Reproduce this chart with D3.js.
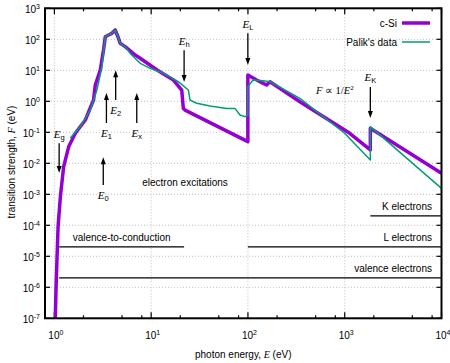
<!DOCTYPE html>
<meta charset="utf-8">
<head>
<script src="https://cdnjs.cloudflare.com/ajax/libs/d3/7.8.5/d3.min.js"></script>
<style>
body { margin: 0; background: #fff; }
svg { font-family: "Liberation Sans", Arial, sans-serif; font-size: 10px; }
.grid line { stroke: #b0b0b0; stroke-width: 0.8; stroke-dasharray: 1,2; }
.frame { fill: none; stroke: #000; stroke-width: 2; }
.tick { stroke: #000; stroke-width: 1.2; }
.serif { font-family: "Liberation Serif", "Times New Roman", serif; }
</style>
</head>
<body>
<script>

// c-Si model curve (photon energy in eV, transition strength in eV)
var siE = [1.02, 1.041, 1.066, 1.092, 1.153, 1.247, 1.404, 1.646, 2.087, 2.54, 2.647, 2.98, 3.22, 3.36, 3.63, 3.93, 4.25, 4.54, 4.79, 5.39, 6.84, 7.7, 11.5, 17, 20.7, 21.5, 22.4, 99.8, 99.8, 123, 144, 156, 169, 344, 1127, 1839, 1839, 10000];
var siF = [8e-8, 1.05e-6, 9.8e-6, 9e-5, 8.3e-4, 7.8e-3, 0.034, 0.093, 0.25, 1.1, 3.36, 10.2, 45, 121, 138, 156, 200, 121, 74, 58, 31, 24.4, 10.2, 4.86, 2.3, 0.59, 0.52, 0.05, 7.05, 4.86, 3.8, 3.36, 4.29, 0.97, 0.093, 0.027, 0.135, 0.0048];

// Palik's data
var palikE = [1.46, 1.85, 2.35, 2.75, 3.1, 3.36, 3.63, 3.93, 4.25, 4.54, 4.79, 5.39, 6.08, 7.7, 9.77, 13.4, 19.1, 24.2, 25.2, 29.6, 40.6, 60.3, 73.5, 82.8, 93.1, 99.8, 99.8, 113, 144, 169, 344, 998, 1839, 1839, 10000];
var palikF = [0.065, 0.152, 0.52, 2.3, 13, 121, 138, 156, 200, 121, 74, 58, 34.8, 16.8, 11.6, 8.0, 4.29, 2.32, 1.1, 0.86, 0.70, 0.59, 0.59, 0.36, 0.32, 0.36, 2.98, 4.86, 4.62, 4.29, 1.25, 0.093, 0.0128, 0.152, 0.00156];

// tick values
var xMajor = [1, 10, 100, 1000, 10000];
var xMinor = [2, 5, 8, 20, 50, 80, 200, 500, 800, 2000, 5000, 8000];
var yMajor = [1e-7, 1e-6, 1e-5, 1e-4, 1e-3, 1e-2, 1e-1, 1, 10, 100, 1000];

// arrows: subscript, energy, tail F, head F
var arrowSub = ["g", "0", "1", "2", "x", "h", "L", "K"];
var arrowE = [1.12, 3.2, 3.45, 4.3, 7.1, 21.9, 99.8, 1839];
var arrowFrom = [0.0447, 0.002, 0.2, 1.1, 0.2, 44.7, 158, 2.9];
var arrowTo = [0.0049, 0.0158, 1.86, 10, 1.86, 4.2, 14.8, 0.29];

// electron groups: label, level, from, to
var bandName = ["valence-to-conduction", "valence electrons", "L electrons", "K electrons"];
var bandF = [2e-5, 2e-6, 2e-5, 2e-4];
var bandFrom = [1.12, 1.12, 99.8, 1839];
var bandTo = [21.9, 10000, 10000, 10000];

var legendNames = ["c-Si", "Palik's data"];
var colors = ["#9400d3", "#009e73"];

var W = 450, H = 363;
var pL = 45, pR = 441.5, pT = 8.3, pB = 318.3;

var x = d3.scaleLog().domain([0.8, 10000]).range([pL, pR]);
var y = d3.scaleLog().domain([1e-7, 1000]).range([pB, pT]);

var svg = d3.select("body").append("svg")
    .attr("width", W)
    .attr("height", H);

svg.append("clipPath").attr("id", "clip")
  .append("rect")
    .attr("x", pL).attr("y", pT)
    .attr("width", pR - pL).attr("height", pB - pT);

// grid
var grid = svg.append("g").attr("class", "grid");
grid.selectAll(".gx").data(xMajor.slice(0, 4)).enter().append("line")
    .attr("x1", d => x(d)).attr("x2", d => x(d))
    .attr("y1", pT).attr("y2", pB);
grid.selectAll(".gy").data(yMajor.slice(1, 10)).enter().append("line")
    .attr("x1", pL).attr("x2", pR)
    .attr("y1", d => y(d)).attr("y2", d => y(d));

// ticks (inward, on all four sides)
var ticks = svg.append("g");
xMajor.forEach(function(d) {
  ticks.append("line").attr("class", "tick").attr("x1", x(d)).attr("x2", x(d)).attr("y1", pB).attr("y2", pB - 6);
  ticks.append("line").attr("class", "tick").attr("x1", x(d)).attr("x2", x(d)).attr("y1", pT).attr("y2", pT + 6);
});
xMinor.forEach(function(d) {
  ticks.append("line").attr("class", "tick").attr("x1", x(d)).attr("x2", x(d)).attr("y1", pB).attr("y2", pB - 3);
  ticks.append("line").attr("class", "tick").attr("x1", x(d)).attr("x2", x(d)).attr("y1", pT).attr("y2", pT + 3);
});
yMajor.forEach(function(d) {
  ticks.append("line").attr("class", "tick").attr("x1", pL).attr("x2", pL + 5).attr("y1", y(d)).attr("y2", y(d));
  ticks.append("line").attr("class", "tick").attr("x1", pR).attr("x2", pR - 5).attr("y1", y(d)).attr("y2", y(d));
});

// tick labels
function powLabel(sel, d) {
  sel.append("tspan").text("10");
  sel.append("tspan").attr("dy", -4).style("font-size", "7px").text(Math.round(Math.log10(d)));
}
svg.selectAll(".xl").data(xMajor).enter().append("text")
    .attr("x", d => x(d) + 1.5).attr("y", 339)
    .attr("text-anchor", "middle")
    .each(function(d) { powLabel(d3.select(this), d); });
svg.selectAll(".yl").data(yMajor).enter().append("text")
    .attr("x", 40).attr("y", d => y(d) + 4.5)
    .attr("text-anchor", "end")
    .each(function(d) { powLabel(d3.select(this), d); });

// axis titles
var xt = svg.append("text").attr("x", (pL + pR) / 2).attr("y", 358).attr("text-anchor", "middle");
xt.append("tspan").text("photon energy, ");
xt.append("tspan").attr("class", "serif").style("font-style", "italic").text("E");
xt.append("tspan").text(" (eV)");

var yt = svg.append("text").attr("transform", "translate(15,162) rotate(-90)").attr("text-anchor", "middle");
yt.append("tspan").text("transition strength, ");
yt.append("tspan").attr("class", "serif").style("font-style", "italic").text("F");
yt.append("tspan").text(" (eV)");

// electron group lines
bandName.forEach(function(name, i) {
  var yy = y(bandF[i]);
  svg.append("line")
      .attr("x1", x(bandFrom[i])).attr("x2", x(bandTo[i]))
      .attr("y1", yy).attr("y2", yy)
      .attr("stroke", "#000").attr("stroke-width", 1.3);
  var full = bandTo[i] >= 10000;
  svg.append("text")
      .attr("x", full ? pR - 9.5 : (x(bandFrom[i]) + x(bandTo[i])) / 2)
      .attr("y", yy - 5.5)
      .attr("text-anchor", full ? "end" : "middle")
      .text(name);
});

// other text
svg.append("text")
    .attr("x", x(22.4)).attr("y", y(0.00186))
    .attr("text-anchor", "middle")
    .text("electron excitations");

var fl = svg.append("text").attr("class", "serif")
    .attr("x", x(790)).attr("y", y(1.72))
    .attr("text-anchor", "middle").style("font-size", "10.5px");
fl.append("tspan").style("font-style", "italic").text("F");
fl.append("tspan").text(" \u221d 1/");
fl.append("tspan").style("font-style", "italic").text("E");
fl.append("tspan").attr("dy", -4).style("font-size", "7px").text("2");

// curves
var line = d3.line().x(d => x(d[0])).y(d => y(d[1]));
var curves = svg.append("g").attr("clip-path", "url(#clip)");
curves.append("path")
    .datum(d3.zip(siE, siF))
    .attr("d", line)
    .attr("fill", "none").attr("stroke", colors[0])
    .attr("stroke-width", 3.5).attr("stroke-linejoin", "round");
curves.append("path")
    .datum(d3.zip(palikE, palikF))
    .attr("d", line)
    .attr("fill", "none").attr("stroke", colors[1])
    .attr("stroke-width", 1.5).attr("stroke-linejoin", "round");

// arrows with labels
arrowSub.forEach(function(s, i) {
  var ax = x(arrowE[i]), y0 = y(arrowFrom[i]), y1 = y(arrowTo[i]);
  var dir = y1 > y0 ? 1 : -1;
  svg.append("line")
      .attr("x1", ax).attr("x2", ax)
      .attr("y1", y0).attr("y2", y1 - dir * 5)
      .attr("stroke", "#000").attr("stroke-width", 1.3);
  svg.append("path")
      .attr("d", "M" + ax + "," + y1 + "L" + (ax - 2.5) + "," + (y1 - dir * 7) + "L" + (ax + 2.5) + "," + (y1 - dir * 7) + "Z")
      .attr("fill", "#000");
  var t = svg.append("text")
      .attr("x", ax).attr("y", dir > 0 ? y0 - 5.5 : y0 + 14)
      .attr("text-anchor", "middle");
  t.append("tspan").attr("class", "serif").style("font-style", "italic").style("font-size", "11px").text("E");
  t.append("tspan").attr("dy", 2).style("font-size", "7.5px").text(s);
});

// legend
legendNames.forEach(function(name, i) {
  var ly = 23 + i * 19;
  svg.append("text").attr("x", 397).attr("y", ly + 3.5).attr("text-anchor", "end").text(name);
  svg.append("line")
      .attr("x1", 402).attr("x2", 430)
      .attr("y1", ly).attr("y2", ly)
      .attr("stroke", colors[i]).attr("stroke-width", i == 0 ? 3.5 : 1.5);
});

// frame
svg.append("rect").attr("class", "frame")
    .attr("x", pL).attr("y", pT)
    .attr("width", pR - pL).attr("height", pB - pT);

</script>
</body>
